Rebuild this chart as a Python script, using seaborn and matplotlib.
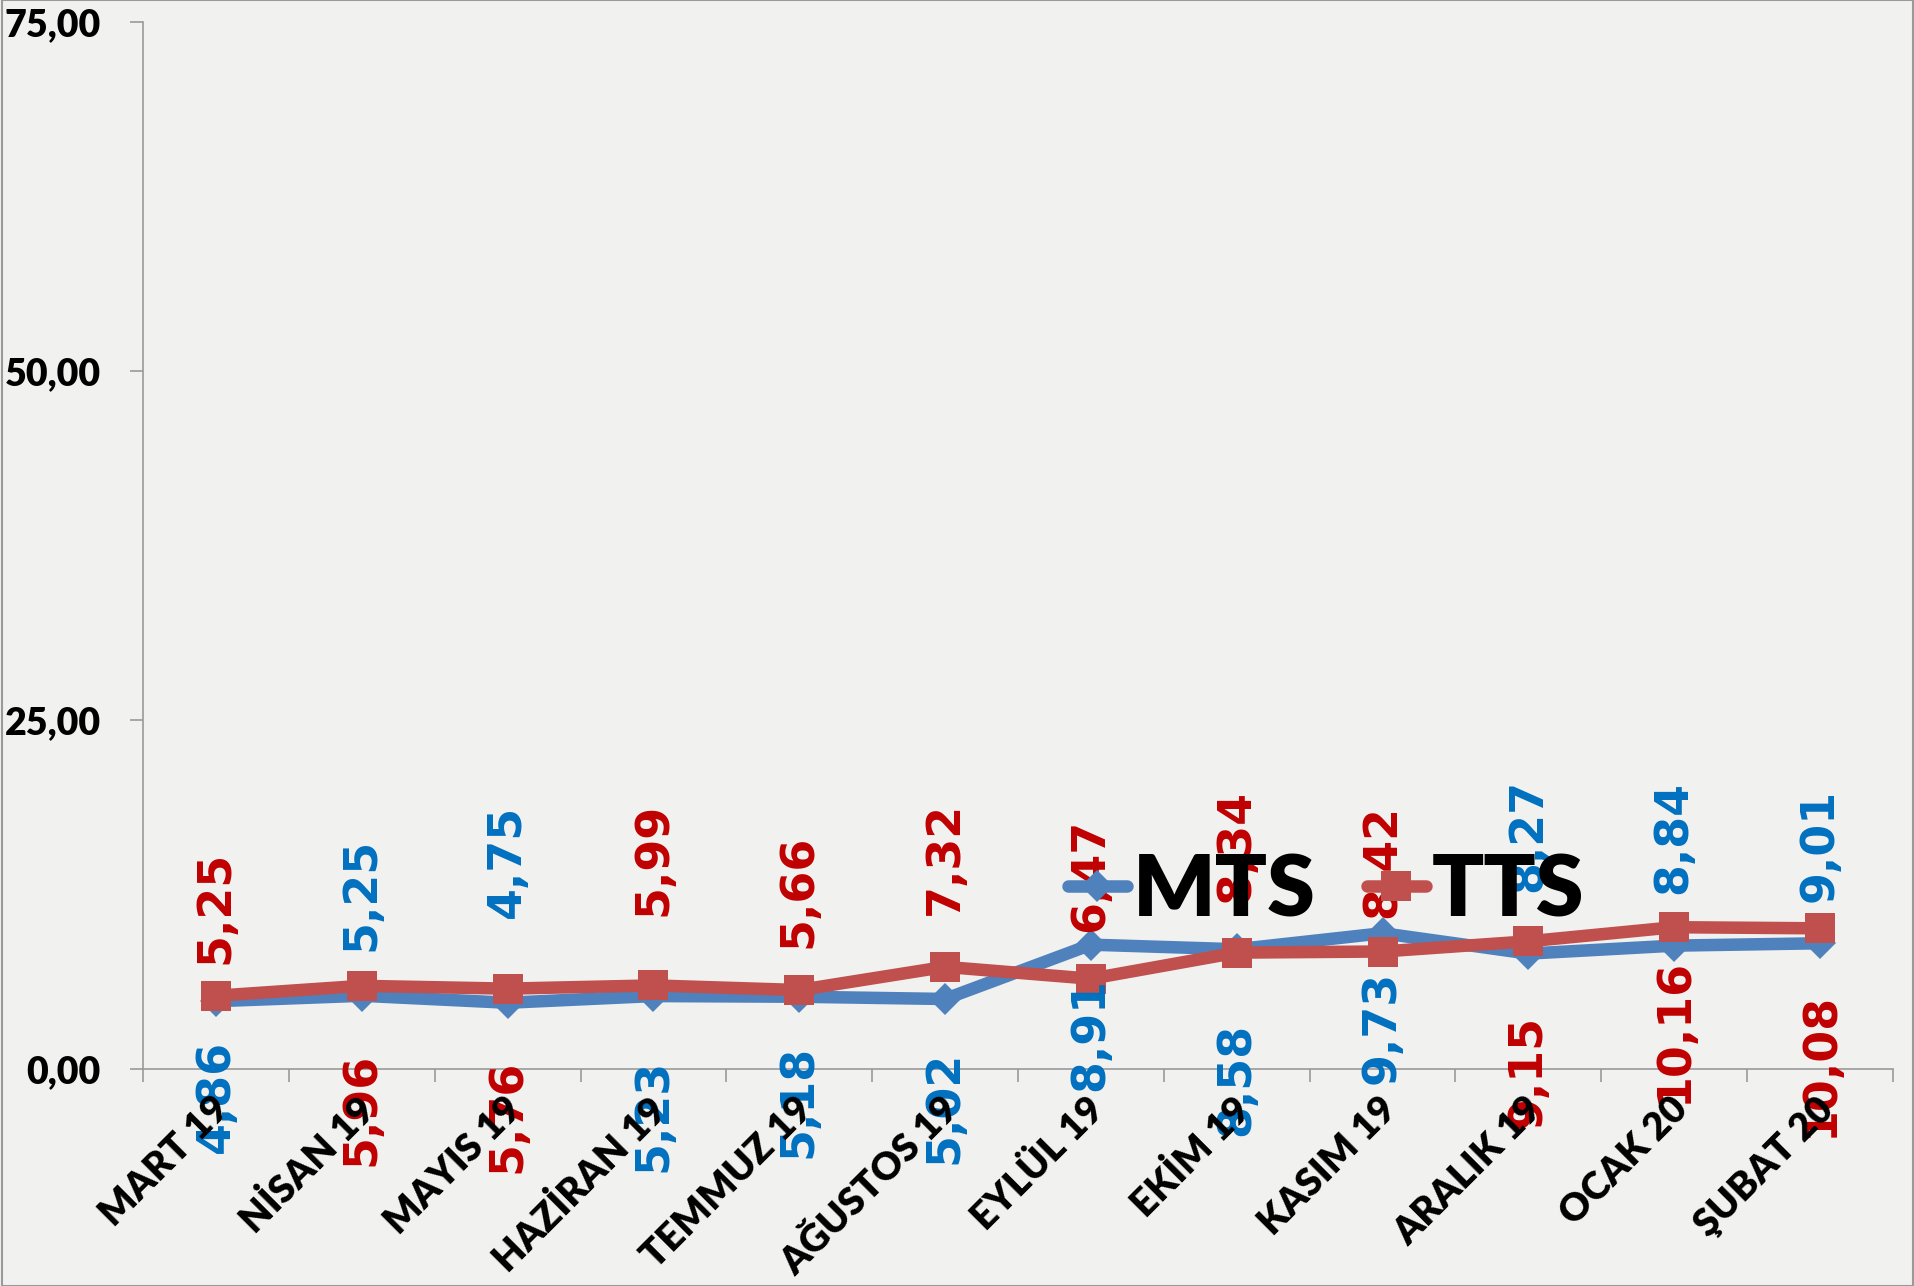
import numpy as np
import pandas as pd
import seaborn as sns
import matplotlib.pyplot as plt
from matplotlib.patches import Rectangle
from matplotlib.transforms import ScaledTranslation

# data
months = ['MART 19', 'NİSAN 19', 'MAYIS 19', 'HAZİRAN 19', 'TEMMUZ 19', 'AĞUSTOS 19',
          'EYLÜL 19', 'EKİM 19', 'KASIM 19', 'ARALIK 19', 'OCAK 20', 'ŞUBAT 20']
mts = [4.86, 5.25, 4.75, 5.23, 5.18, 5.02, 8.91, 8.58, 9.73, 8.27, 8.84, 9.01]
tts = [5.25, 5.96, 5.76, 5.99, 5.66, 7.32, 6.47, 8.34, 8.42, 9.15, 10.16, 10.08]
y_ticks = [0, 25, 50, 75]

# label offsets in points from the marker (+ above, - below), hand placed like the original
mts_label_offset = [-28, 32, 61, -45, -35, -37, -24, -53, -27, 44, 37, 30]
tts_label_offset = [23, -48, -51, 50, 30, 37, 34, 36, 24, -53, -22, -46]

line_colors = {'MTS': '#4F81BD', 'TTS': '#C0504D'}
label_colors = {'MTS': '#0070C0', 'TTS': '#C00000'}
marker_sizes = {'MTS': 16, 'TTS': 22}

df = pd.DataFrame({
    'pos': list(range(len(months))) * 2,
    'value': mts + tts,
    'series': ['MTS'] * len(mts) + ['TTS'] * len(tts),
})

sns.set_theme(style="white")
plt.rcParams['font.family'] = ['Lato', 'DejaVu Sans']
plt.rcParams['font.weight'] = 'heavy'
plt.rcParams['text.color'] = 'black'

fig = plt.figure(figsize=(19.15, 12.86), dpi=100)
fig.patch.set_facecolor('#f1f1f0')
ax = fig.add_axes([0.0747, 0.1687, 0.9138, 0.8142])
ax.patch.set_alpha(0)

sns.lineplot(data=df, x='pos', y='value', hue='series', style='series',
             palette=line_colors, markers={'MTS': 'D', 'TTS': 's'},
             dashes=False, linewidth=9, markeredgewidth=0,
             sort=False, ax=ax, legend=False)

for line, name in zip(ax.lines, ['MTS', 'TTS']):
    line.set_markersize(marker_sizes[name])

# data labels
for name, vals, offs in (('MTS', mts, mts_label_offset), ('TTS', tts, tts_label_offset)):
    for i, v in enumerate(vals):
        ax.annotate(f"{v:.2f}".replace('.', ','), (i, v),
                    xytext=(0, offs[i]), textcoords='offset points',
                    rotation=90, ha='center',
                    va='bottom' if offs[i] > 0 else 'top',
                    color=label_colors[name], fontsize=33, fontweight='bold',
                    family='DejaVu Sans', zorder=3)

ax.set_xlim(-0.5, len(months) - 0.5)
ax.set_ylim(0, 75)
ax.set_xlabel('')
ax.set_ylabel('')

ax.set_yticks(y_ticks, labels=[f"{v:.2f}".replace('.', ',') for v in y_ticks],
              fontsize=27, fontweight='heavy', color='black')
ax.tick_params(axis='y', which='major', direction='out', length=9.5, width=1.2,
               color='#9a9a9a', pad=21, left=True)

ax.set_xticks(range(len(months)), labels=months, rotation=45, ha='right', va='top',
              fontsize=27.5, fontweight='heavy', color='black')
ax.set_xticks(np.arange(-0.5, len(months)), minor=True)
ax.tick_params(axis='x', which='major', length=0, pad=16)
ax.tick_params(axis='x', which='minor', direction='out', length=9.5, width=1.2,
               color='#9a9a9a', bottom=True)
shift = ScaledTranslation(0.2, 0, fig.dpi_scale_trans)
for lab in ax.get_xticklabels():
    lab.set_transform(lab.get_transform() + shift)
ax.xaxis.set_zorder(4)

for side in ['top', 'right']:
    ax.spines[side].set_visible(False)
for side in ['left', 'bottom']:
    ax.spines[side].set_color('#9a9a9a')
    ax.spines[side].set_linewidth(1.2)

# legend
handles = [plt.Line2D([], [], color=line_colors['MTS'], lw=9, marker='D',
                      ms=marker_sizes['MTS'], mew=0),
           plt.Line2D([], [], color=line_colors['TTS'], lw=9, marker='s',
                      ms=marker_sizes['TTS'], mew=0)]
leg = ax.legend(handles, ['MTS', 'TTS'], loc='center left', bbox_to_anchor=(0.5286, 0.170),
                ncol=2, frameon=False, borderpad=0, borderaxespad=0,
                handlelength=0.68, handletextpad=0.07, columnspacing=0.6,
                labelcolor='black',
                prop={'family': 'Lato', 'weight': 'heavy', 'size': 62})
leg.set_zorder(6)

fig.patches.append(Rectangle((0.001, 0.0), 0.998, 1.0, transform=fig.transFigure,
                             fill=False, edgecolor='#9a9a9a', lw=1.5))

plt.savefig('out.png', dpi=100, facecolor=fig.get_facecolor())
